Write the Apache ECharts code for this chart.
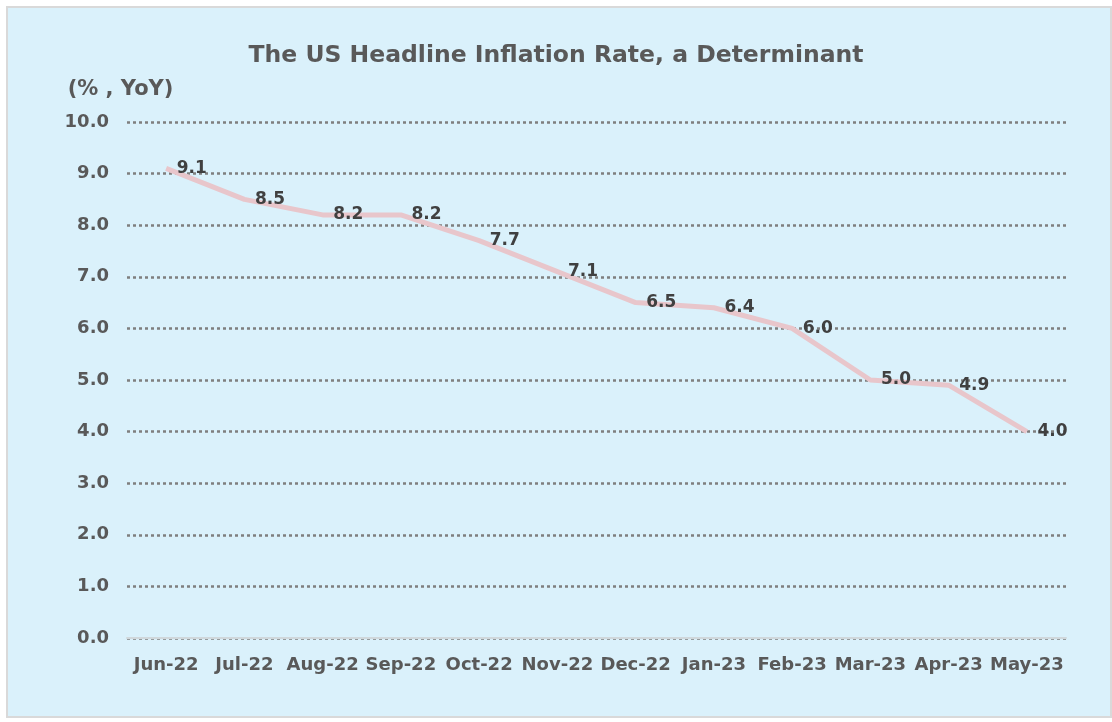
<!DOCTYPE html>
<html>
<head>
<meta charset="utf-8">
<script src="https://cdn.jsdelivr.net/npm/echarts@6/dist/echarts.min.js"></script>
<style>
  html, body { margin: 0; padding: 0; background: #ffffff; }
  #frame {
    position: absolute; left: 6px; top: 6px; width: 1106px; height: 712px;
    background: #daf1fb; border: 2px solid #d9d9d9; box-sizing: border-box;
  }
  #chart { position: absolute; left: 0; top: 0; width: 1112px; height: 722px; }
</style>
</head>
<body>
<div id="frame"></div>
<div id="chart"></div>
<script>
const months = ['Jun-22', 'Jul-22', 'Aug-22', 'Sep-22', 'Oct-22', 'Nov-22',
  'Dec-22', 'Jan-23', 'Feb-23', 'Mar-23', 'Apr-23', 'May-23'];
const inflation = [9.1, 8.5, 8.2, 8.2, 7.7, 7.1, 6.5, 6.4, 6.0, 5.0, 4.9, 4.0];

const fontFamily = '"DejaVu Sans", Verdana, sans-serif';
const textColor = '#595959';

const chart = echarts.init(document.getElementById('chart'), null, { renderer: 'canvas' });

const option = {
  backgroundColor: 'transparent',
  animation: false,
  title: {
    text: 'The US Headline Inflation Rate, a Determinant',
    left: 'center',
    top: 39,
    textStyle: { fontFamily: fontFamily, fontSize: 23.5, fontWeight: 'bold', color: textColor }
  },
  grid: { left: 127, right: 46, top: 122, bottom: 84 },
  xAxis: {
    type: 'category',
    data: months,
    boundaryGap: true,
    axisLine: { lineStyle: { color: '#d0d8dc', width: 2 } },
    axisTick: { show: false },
    axisLabel: {
      interval: 0,
      margin: 18,
      fontFamily: fontFamily, fontSize: 18, fontWeight: 'bold', color: textColor
    }
  },
  yAxis: {
    type: 'value',
    min: 0,
    max: 10,
    interval: 1,
    name: '(% , YoY)',
    nameLocation: 'end',
    nameGap: 22,
    nameTextStyle: {
      fontFamily: fontFamily, fontSize: 21, fontWeight: 'bold', color: textColor,
      align: 'center', padding: [0, 13, 0, 0]
    },
    axisLine: { show: false },
    axisTick: { show: false },
    axisLabel: {
      margin: 18,
      formatter: v => v.toFixed(1),
      fontFamily: fontFamily, fontSize: 18, fontWeight: 'bold', color: textColor
    },
    splitLine: {
      lineStyle: { color: '#7f7f7f', width: 2.5, type: [3, 3] }
    }
  },
  series: [{
    type: 'line',
    data: inflation,
    showSymbol: true,
    symbol: 'circle',
    symbolSize: 1,
    itemStyle: { color: 'rgba(0,0,0,0)' },
    lineStyle: { color: '#e8c6cb', width: 5 },
    label: {
      show: true,
      position: 'right',
      distance: 10,
      formatter: p => p.value.toFixed(1),
      fontFamily: fontFamily, fontSize: 17, fontWeight: 'bold', color: '#404040'
    }
  }]
};

chart.setOption(option);
</script>
</body>
</html>
